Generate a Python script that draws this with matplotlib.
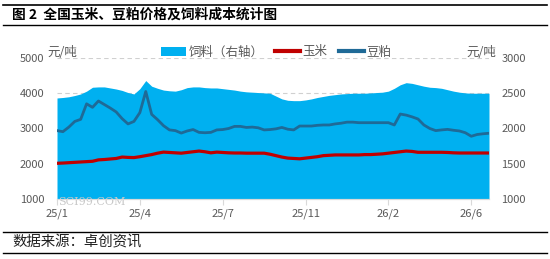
import numpy as np
import matplotlib
matplotlib.use("Agg")
from matplotlib import pyplot as plt
from matplotlib.lines import Line2D
from matplotlib.patches import Patch

plt.rcParams['font.family'] = ['Noto Sans CJK SC', 'DejaVu Sans']

# tick labels along the category axis (one every 14 points)
x_labels = ["25/1", "25/4", "25/7", "25/11", "26/2", "26/6"]
label_step = 14

# feed cost, right axis (yuan/ton)
feed = [2433, 2440, 2450, 2468, 2490, 2530, 2585, 2590, 2590, 2575,
        2560, 2540, 2510, 2490, 2565, 2680, 2600, 2570, 2545, 2535,
        2530, 2550, 2580, 2590, 2590, 2580, 2575, 2575, 2565, 2555,
        2545, 2530, 2520, 2515, 2510, 2505, 2500, 2460, 2420, 2400,
        2395, 2395, 2405, 2420, 2440, 2455, 2470, 2480, 2490, 2495,
        2500, 2500, 2500, 2505, 2510, 2515, 2530, 2570, 2620, 2650,
        2640, 2620, 2600, 2585, 2580, 2570, 2550, 2530, 2515, 2505,
        2500, 2500, 2500, 2500]

# corn price, left axis
corn = [2013, 2020, 2030, 2040, 2050, 2060, 2070, 2110, 2120, 2135,
        2150, 2190, 2180, 2175, 2200, 2230, 2260, 2300, 2330, 2320,
        2310, 2300, 2320, 2340, 2360, 2340, 2310, 2330, 2320, 2310,
        2305, 2305, 2300, 2300, 2300, 2300, 2270, 2230, 2190, 2160,
        2150, 2140, 2160, 2180, 2200, 2230, 2240, 2250, 2250, 2250,
        2250, 2250, 2260, 2260, 2270, 2280, 2300, 2320, 2340, 2360,
        2350, 2325, 2325, 2325, 2325, 2325, 2320, 2310, 2305, 2305,
        2305, 2305, 2305, 2305]

# soybean meal price, left axis
meal = [2940, 2910, 3040, 3200, 3260, 3700, 3600, 3780, 3680, 3580,
        3470, 3280, 3130, 3200, 3450, 4050, 3400, 3250, 3080, 2960,
        2940, 2870, 2930, 2970, 2890, 2880, 2890, 2960, 2970, 3000,
        3060, 3060, 3030, 3040, 3020, 2960, 2970, 2990, 3030, 2980,
        2960, 3070, 3070, 3070, 3090, 3100, 3100, 3130, 3150, 3180,
        3180, 3165, 3165, 3165, 3165, 3165, 3165, 3100, 3410, 3380,
        3330, 3270, 3100, 3000, 2940, 2960, 2975, 2950, 2930, 2880,
        2780, 2830, 2850, 2865]

x = np.arange(len(feed))
grey = "#595959"

fig = plt.figure(figsize=(5.5, 2.59), dpi=100)
ax = fig.add_axes([57/550, 1-199/259, 432/550, 141/259])
ax2 = ax.twinx()

# feed area on the right axis, drawn underneath the lines
ax2.fill_between(x, 1000, feed, color="#00B0F0", linewidth=0, zorder=2)
ax2.set_ylim(1000, 3000)
ax2.set_yticks([1000, 1500, 2000, 2500, 3000])
ax2.grid(axis="y", color="#d0d0d0", linestyle=(0, (4, 3)), linewidth=0.8, zorder=0)
ax2.set_axisbelow(True)

ax.set_zorder(ax2.get_zorder() + 1)
ax.patch.set_visible(False)
ax.plot(x, corn, color="#C00000", linewidth=2.3, zorder=3)
ax.plot(x, meal, color="#1F6A97", linewidth=2.0, zorder=3)
ax.set_ylim(1000, 5000)
ax.set_yticks([1000, 2000, 3000, 4000, 5000])
ax.set_xlim(0, len(feed) - 1)
ax.set_xticks(np.arange(0, len(feed), label_step))
ax.set_xticklabels(x_labels)

for a in (ax, ax2):
    for s in ("top", "left", "right"):
        a.spines[s].set_visible(False)
    a.spines["bottom"].set_color("#d9d9d9")
    a.tick_params(axis="y", length=0, labelsize=8, labelcolor=grey, pad=9)
ax.tick_params(axis="x", length=4, color="#d9d9d9", labelsize=8, labelcolor=grey, pad=3)

fig.text(47/550, 1-52/259, "元/吨", fontsize=9, color=grey, va="center", ha="left")
fig.text(466/550, 1-52/259, "元/吨", fontsize=9, color=grey, va="center", ha="left")

# faint watermark
fig.text(58/550, 1-202/259, "SCI99.COM", fontsize=8, color="#c8c8c8",
         family="DejaVu Serif", va="center", ha="left", zorder=0)

handles = [Patch(facecolor="#00B0F0", edgecolor="none"),
           Line2D([], [], color="#C00000", linewidth=3),
           Line2D([], [], color="#1F6A97", linewidth=3)]
fig.legend(handles, ["饲料（右轴）", "玉米", "豆粕"], loc="center",
           bbox_to_anchor=(276/550, 1-52/259), ncol=3, frameon=False,
           fontsize=9, labelcolor=grey, handlelength=2.0, handletextpad=0.2,
           columnspacing=0.9, borderpad=0)

# title bar and source bar
fig.add_artist(Line2D([3/550, 547/550], [1-4.5/259, 1-4.5/259], color="black", linewidth=1.2))
fig.add_artist(Line2D([3/550, 547/550], [1-24.5/259, 1-24.5/259], color="black", linewidth=1.0))
fig.text(12/550, 1-14.5/259, "图 2  全国玉米、豆粕价格及饲料成本统计图", fontsize=9.9,
         fontweight="bold", va="center", ha="left")
fig.add_artist(Line2D([3/550, 547/550], [1-231.7/259, 1-231.7/259], color="black", linewidth=1.0))
fig.add_artist(Line2D([3/550, 547/550], [1-253.3/259, 1-253.3/259], color="black", linewidth=1.0))
fig.text(12/550, 1-242.5/259, "数据来源：卓创资讯", fontsize=10.4, color="#202020",
         va="center", ha="left")

fig.savefig("out.png", dpi=100)
